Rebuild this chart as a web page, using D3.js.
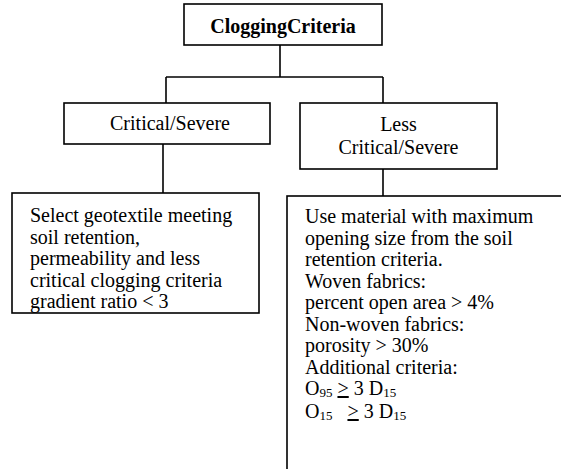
<!DOCTYPE html>
<html><head><meta charset="utf-8">
<script src="https://cdn.jsdelivr.net/npm/d3@7"></script>
<style>
html,body{margin:0;padding:0;background:#fff;}
svg{display:block;}
text{font-family:"Liberation Serif","Times New Roman",serif;fill:#000;}
</style></head>
<body>
<script>
// ---- content ----
const rootLabel = ["CloggingCriteria"];
const branchLabels = [["Critical/Severe"], ["Less", "Critical/Severe"]];
const leftDetail = [
  "Select geotextile meeting",
  "soil retention,",
  "permeability and less",
  "critical clogging criteria",
  "gradient ratio < 3"
];
const rightDetail = [
  "Use material with maximum",
  "opening size from the soil",
  "retention criteria.",
  "Woven fabrics:",
  "percent open area > 4%",
  "Non-woven fabrics:",
  "porosity > 30%",
  "Additional criteria:"
];
// formula rows: [symbol, subscript, gap, relation, value, subscript]
const formulas = [
  ["O", "95", "", ">", " 3 D", "15"],
  ["O", "15", "  ", ">", " 3 D", "15"]
];

// ---- layout ----
const W = 561, H = 469, FS = 20, LH = 21.5;
const svg = d3.select("body").append("svg").attr("width", W).attr("height", H);
svg.append("rect").attr("width", W).attr("height", H).attr("fill", "#fff");

const boxes = {
  root:  {x: 184, y: 4,   w: 198, h: 41},
  left:  {x: 64,  y: 103, w: 206, h: 41},
  right: {x: 300, y: 103, w: 197, h: 66},
  ld:    {x: 12,  y: 193, w: 247, h: 120},
  rd:    {x: 287, y: 196, w: 290, h: 290}
};
const g = svg.append("g");
const stroke = {stroke: "#000", "stroke-width": 1.6, fill: "none"};
function box(b) {
  const r = g.append("rect").attr("x", b.x).attr("y", b.y).attr("width", b.w).attr("height", b.h);
  Object.entries(stroke).forEach(([k, v]) => r.attr(k, v));
}
function line(pts) {
  const p = g.append("path").attr("d", d3.line()(pts));
  Object.entries(stroke).forEach(([k, v]) => p.attr(k, v));
}
Object.values(boxes).forEach(box);

// connectors
const cx0 = 280, cxL = 166, cxR = 383;
line([[cx0, 45], [cx0, 77]]);
line([[cxL, 77], [cxR, 77]]);
line([[cxL, 77], [cxL, 103]]);
line([[cxR, 77], [cxR, 103]]);
line([[163, 144], [163, 193]]);
line([[cxR, 169], [cxR, 196]]);

// root label
g.append("text").attr("x", boxes.root.x + boxes.root.w / 2).attr("y", 33)
  .attr("text-anchor", "middle").attr("font-size", FS).attr("font-weight", "bold")
  .text(rootLabel[0]);

// branch labels
branchLabels[0].forEach((t, i) => g.append("text")
  .attr("x", boxes.left.x + boxes.left.w / 2 + 3).attr("y", 130 + i * LH)
  .attr("text-anchor", "middle").attr("font-size", FS).text(t));
branchLabels[1].forEach((t, i) => g.append("text")
  .attr("x", boxes.right.x + boxes.right.w / 2).attr("y", 131 + i * 23)
  .attr("text-anchor", "middle").attr("font-size", FS).text(t));

// detail texts
leftDetail.forEach((t, i) => g.append("text")
  .attr("x", 30).attr("y", 222 + i * LH).attr("font-size", FS).text(t));
rightDetail.forEach((t, i) => g.append("text")
  .attr("x", 305).attr("y", 223 + i * LH).attr("font-size", FS).text(t));

formulas.forEach((f, i) => {
  const y = 223 + rightDetail.length * LH + i * 23;
  const t = g.append("text").attr("x", 305).attr("y", y).attr("font-size", FS)
    .attr("xml:space", "preserve").style("white-space", "pre");
  t.append("tspan").text(f[0]);
  t.append("tspan").attr("font-size", 13).attr("dy", 2).text(f[1]);
  t.append("tspan").attr("dy", -2).text(f[2] + " ");
  t.append("tspan").attr("text-decoration", "underline").text(f[3]);
  t.append("tspan").text(f[4]);
  t.append("tspan").attr("font-size", 13).attr("dy", 2).text(f[5]);
});
</script>
</body></html>
